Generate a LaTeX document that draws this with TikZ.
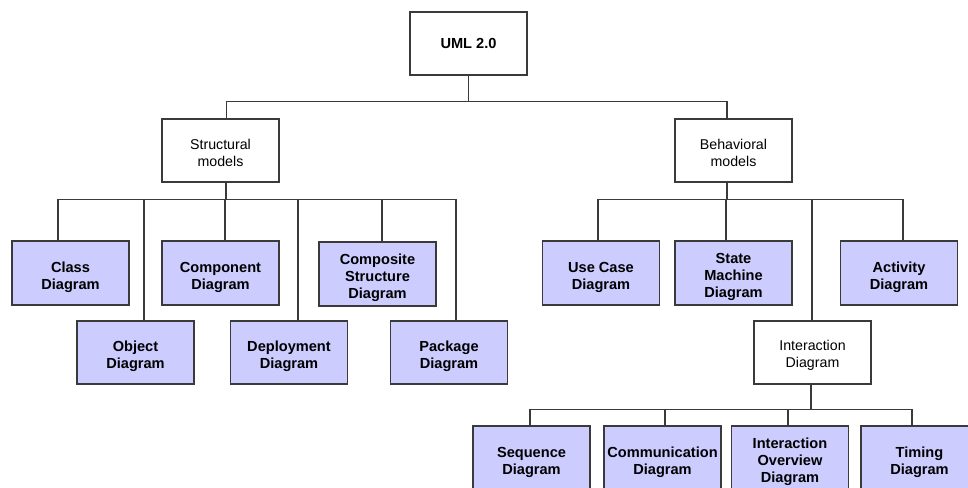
\documentclass[tikz,border=0pt]{standalone}
\usepackage{fontspec}
\setmainfont{Liberation Sans}
\definecolor{boxfill}{HTML}{CCCCFF}
\definecolor{linecol}{HTML}{3A3A3A}
\newlength\fsh
\newcommand\fs{\rule{0pt}{\fsh}}
\tikzset{
  base/.style={draw=linecol, line width=1.2pt, align=center, inner sep=0pt, text=black},
  topbox/.style={base, fill=white, minimum width=117pt, minimum height=63pt,
    font=\fontsize{14.2}{17}\selectfont, execute at begin node={\setlength\fsh{16pt}}},
  leaf/.style={base, fill=boxfill, minimum width=117pt, minimum height=64pt,
    font=\bfseries\fontsize{14.6}{17}\selectfont, execute at begin node={\setlength\fsh{19pt}}},
  conn/.style={draw=linecol, line width=1.1pt}
}
\begin{document}
\begin{tikzpicture}[x=1pt,y=-1pt]
\path[use as bounding box] (0,0) rectangle (968,487);
\clip (0,0) rectangle (968,487);
\fill[white] (0,0) rectangle (968,487);
% level 0/1
\node[topbox, font=\bfseries\fontsize{14.6}{17}\selectfont] (uml) at (468.5,43.5) {UML 2.0};
\node[topbox] (str) at (220.5,150.5) {\fs Structural\\models};
\node[topbox] (beh) at (733.5,150.5) {\fs Behavioral\\models};
% structural children
\node[leaf] (cls) at (70.5,273) {\fs Class\\Diagram};
\node[leaf] (cmp) at (220.5,273) {\fs Component\\Diagram};
\node[leaf] (csd) at (377.5,274) {\fs Composite\\Structure\\Diagram};
\node[leaf, minimum height=63pt] (obj) at (135.5,352.5) {\fs Object\\Diagram};
\node[leaf, minimum height=63pt] (dep) at (289,352.5) {\fs Deployment\\Diagram};
\node[leaf, minimum height=63pt] (pkg) at (449,352.5) {\fs Package\\Diagram};
% behavioral children
\node[leaf] (ucd) at (601,273) {\fs Use Case\\Diagram};
\node[leaf] (smd) at (733.5,273) {\fs State\\Machine\\Diagram};
\node[leaf] (act) at (899,273) {\fs Activity\\Diagram};
\node[topbox] (int) at (812.5,352.5) {\fs Interaction\\Diagram};
% interaction children
\node[leaf] (seq) at (531.5,458) {\fs Sequence\\Diagram};
\node[leaf] (com) at (662.5,458) {\fs Communication\\Diagram};
\node[leaf] (iod) at (790,458) {\fs Interaction\\Overview\\Diagram};
\node[leaf] (tim) at (919.5,458) {\fs Timing\\Diagram};
% connectors
\draw[conn] (uml.south) -- ++(0,26) coordinate (j0);
\draw[conn] (j0) -| ([xshift=6pt]str.north);
\draw[conn] (j0) -| ([xshift=-6.5pt]beh.north);
\draw[conn] ([xshift=5.5pt]str.south) -- ++(0,17) coordinate (j1);
\draw[conn] (j1) -| ([xshift=-12.5pt]cls.north);
\draw[conn] (j1) -| ([xshift=8.5pt]obj.north);
\draw[conn] (j1) -| ([xshift=4.5pt]cmp.north);
\draw[conn] (j1) -| ([xshift=9pt]dep.north);
\draw[conn] (j1) -| ([xshift=4.5pt]csd.north);
\draw[conn] (j1) -| ([xshift=7pt]pkg.north);
\draw[conn] ([xshift=-6.5pt]beh.south) -- ++(0,17) coordinate (j2);
\draw[conn] (j2) -| ([xshift=-3pt]ucd.north);
\draw[conn] (j2) -| ([xshift=-7.5pt]smd.north);
\draw[conn] (j2) -| ([xshift=-0.5pt]int.north);
\draw[conn] (j2) -| ([xshift=4pt]act.north);
\draw[conn] ([xshift=-1.5pt]int.south) -- ++(0,25) coordinate (j3);
\draw[conn] (j3) -| ([xshift=-1.5pt]seq.north);
\draw[conn] (j3) -| ([xshift=2.5pt]com.north);
\draw[conn] (j3) -| ([xshift=-2pt]iod.north);
\draw[conn] (j3) -| ([xshift=-7.5pt]tim.north);
\end{tikzpicture}
\end{document}
